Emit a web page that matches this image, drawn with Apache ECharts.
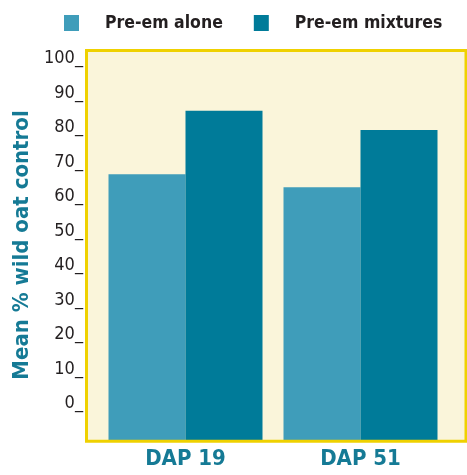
<!DOCTYPE html>
<html>
<head>
<meta charset="utf-8">
<script src="https://cdn.jsdelivr.net/npm/echarts@6/dist/echarts.min.js"></script>
<style>
html,body{margin:0;padding:0;background:#fff;}
#chart{width:467px;height:475px;}
</style>
</head>
<body>
<div id="chart"></div>
<script>
const categories = ['DAP 19', 'DAP 51'];
const seriesNames = ['Pre-em alone', 'Pre-em mixtures'];
const aloneValues = [66.5, 62.7];
const mixtureValues = [84.9, 79.3];
const yTickValues = [0, 10, 20, 30, 40, 50, 60, 70, 80, 90, 100];
const yAxisTitle = 'Mean % wild oat control';

const FONT = '"DejaVu Sans Condensed", "Liberation Sans Narrow", "DejaVu Sans", sans-serif';
const chart = echarts.init(document.getElementById('chart'), null, {renderer: 'canvas'});
chart.setOption({
  animation: false,
  backgroundColor: '#ffffff',
  color: ['#3f9dba', '#007b99'],
  graphic: [
    {type: 'rect', z: -10, silent: true,
     shape: {x: 86.5, y: 50.5, width: 379.5, height: 390.7},
     style: {fill: '#faf5da', stroke: null}},
    {type: 'rect', z: 100, silent: true,
     shape: {x: 86.5, y: 50.5, width: 379.5, height: 390.7},
     style: {fill: 'none', stroke: '#efd100', lineWidth: 3}}
  ],
  legend: {
    left: 64, top: 14, width: 400, padding: 0,
    orient: 'horizontal',
    itemWidth: 15, itemHeight: 16, itemGap: 31,
    icon: 'rect',
    textStyle: {fontFamily: FONT, fontWeight: 'bold', fontSize: 17.5, color: '#231f20', padding: [5, 0, 0, 21]},
    data: seriesNames
  },
  grid: {left: 98, right: 19, top: 50, bottom: 35, containLabel: false},
  xAxis: {
    type: 'category',
    data: categories,
    axisLine: {show: false}, axisTick: {show: false}, splitLine: {show: false},
    axisLabel: {fontFamily: FONT, fontWeight: 'bold', fontSize: 22, color: '#157a95', margin: 8}
  },
  yAxis: {
    type: 'value',
    min: -10.6, max: 102.5,
    startValue: -10.6,
    axisLine: {show: false}, axisTick: {show: false}, splitLine: {show: false},
    axisLabel: {
      customValues: yTickValues,
      fontFamily: FONT, fontSize: 18, color: '#231f20', margin: 15,
      formatter: v => v + '_'
    },
    name: yAxisTitle,
    nameLocation: 'middle',
    nameGap: 61,
    nameTextStyle: {fontFamily: FONT, fontWeight: 'bold', fontSize: 22, color: '#157a95'}
  },
  series: [
    {name: seriesNames[0], type: 'bar', data: aloneValues, barGap: '0%', barCategoryGap: '12%'},
    {name: seriesNames[1], type: 'bar', data: mixtureValues, barGap: '0%', barCategoryGap: '12%'}
  ]
});
</script>
</body>
</html>
